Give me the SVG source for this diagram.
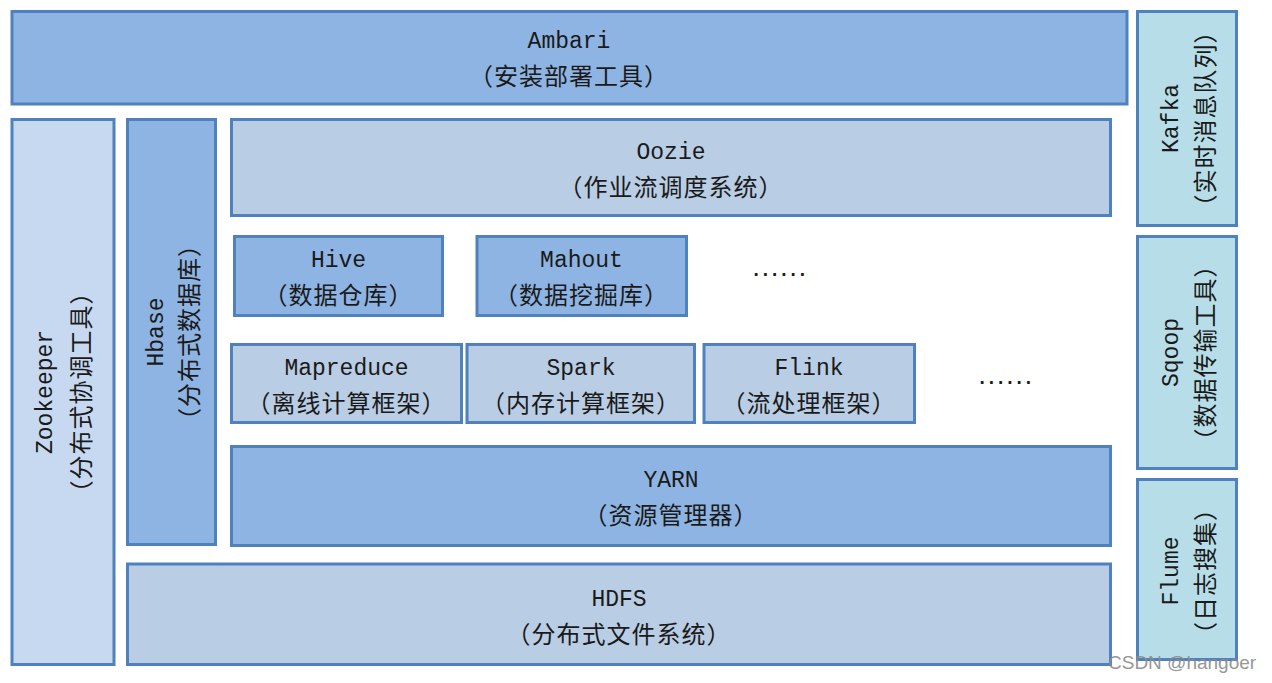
<svg xmlns="http://www.w3.org/2000/svg" width="1272" height="683" viewBox="0 0 1272 683">
<style>
rect{stroke:#4F81BD;stroke-width:3}
.d{fill:#8EB4E3}.m{fill:#B9CDE5}.l{fill:#C6D9F1}.c{fill:#B7DEE8}
text{fill:#1a1a1a;text-anchor:middle;dominant-baseline:central}
.en{font-family:"Liberation Mono",monospace;font-size:23px}
.zh{font-family:"Noto Sans CJK SC",sans-serif;font-size:24px;letter-spacing:1px}
.dots{font-family:"Liberation Sans",sans-serif;font-size:28px;letter-spacing:1.5px}
.wm{font-family:"Liberation Sans",sans-serif;font-size:19px;fill:#8c8c8c;text-anchor:start;opacity:0.9}
</style>
<rect width="1272" height="683" fill="#fff" style="stroke:none"/>
<g id="ambari"><rect class="d" x="12" y="11.5" width="1115" height="92.5"/><text class="en" x="569" y="42">Ambari</text><text class="zh" x="569" y="74">（安装部署工具）</text></g>
<g id="kafka"><rect class="c" x="1137.5" y="11.5" width="99" height="214"/><g transform="translate(1187,118.5) rotate(-90)"><text class="en" x="0" y="-15">Kafka</text><text class="zh" x="0" y="16">（实时消息队列）</text></g></g>
<g id="sqoop"><rect class="c" x="1137.5" y="236.5" width="99" height="232"/><g transform="translate(1187,352.5) rotate(-90)"><text class="en" x="0" y="-15">Sqoop</text><text class="zh" x="0" y="16">（数据传输工具）</text></g></g>
<g id="flume"><rect class="c" x="1137.5" y="479.5" width="99" height="180"/><g transform="translate(1187,571) rotate(-90)"><text class="en" x="0" y="-15">Flume</text><text class="zh" x="0" y="16">（日志搜集）</text></g></g>
<g id="zookeeper"><rect class="l" x="12" y="119.5" width="102" height="545"/><g transform="translate(63,392) rotate(-90)"><text class="en" x="0" y="-17">Zookeeper</text><text class="zh" x="0" y="16">（分布式协调工具）</text></g></g>
<g id="hbase"><rect class="d" x="127.5" y="119.5" width="88" height="425"/><g transform="translate(171.5,332) rotate(-90)"><text class="en" x="0" y="-15">Hbase</text><text class="zh" x="0" y="16">（分布式数据库）</text></g></g>
<g id="oozie"><rect class="m" x="231.5" y="119.5" width="879" height="96"/><text class="en" x="671" y="153">Oozie</text><text class="zh" x="671" y="185">（作业流调度系统）</text></g>
<g id="hive"><rect class="d" x="234.5" y="236.5" width="208" height="79"/><text class="en" x="338.5" y="261">Hive</text><text class="zh" x="338.5" y="293">（数据仓库）</text></g>
<g id="mahout"><rect class="d" x="477" y="236.5" width="209.5" height="79"/><text class="en" x="581.5" y="261">Mahout</text><text class="zh" x="581.5" y="293">（数据挖掘库）</text></g>
<text class="dots" x="780" y="266">......</text>
<g id="mapreduce"><rect class="m" x="231.5" y="344.5" width="230" height="78"/><text class="en" x="346.5" y="369">Mapreduce</text><text class="zh" x="346.5" y="401">（离线计算框架）</text></g>
<g id="spark"><rect class="m" x="467" y="344.5" width="227.5" height="78"/><text class="en" x="581" y="369">Spark</text><text class="zh" x="581" y="401">（内存计算框架）</text></g>
<g id="flink"><rect class="m" x="704" y="344.5" width="210.5" height="78"/><text class="en" x="809" y="369">Flink</text><text class="zh" x="809" y="401">（流处理框架）</text></g>
<text class="dots" x="1006" y="374">......</text>
<g id="yarn"><rect class="d" x="231.5" y="446.5" width="879" height="99"/><text class="en" x="671" y="481">YARN</text><text class="zh" x="671" y="513">（资源管理器）</text></g>
<g id="hdfs"><rect class="m" x="127.5" y="564" width="983" height="100.5"/><text class="en" x="619" y="600">HDFS</text><text class="zh" x="619" y="632">（分布式文件系统）</text></g>
<g id="connectors"/>
<text class="wm" x="1108" y="662">CSDN @hangoer</text>
</svg>
